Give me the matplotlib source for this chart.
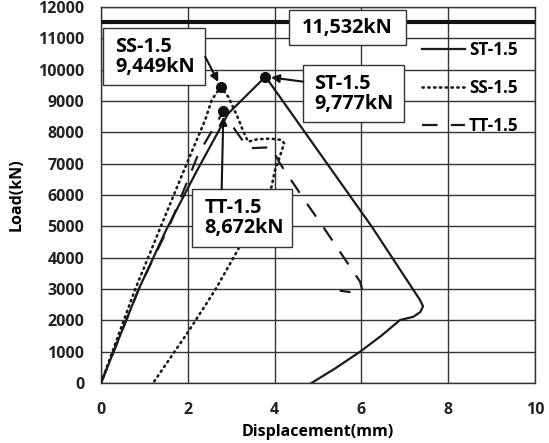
import matplotlib
matplotlib.use("Agg")
import matplotlib.pyplot as plt
from matplotlib.patches import Rectangle

plt.rcParams['font.family'] = ['Open Sans', 'DejaVu Sans']
plt.rcParams['font.weight'] = 'bold'

# ST-1.5 (solid)
st_x = [0, 0.86, 1.5, 2.2, 2.93, 3.79, 6.24, 7.35, 7.42, 7.36, 7.2, 6.89, 6.45, 5.97, 5.4, 4.85]
st_y = [0, 2968, 4883, 6750, 8600, 9777, 4989, 2650, 2450, 2270, 2116, 2010, 1500, 1000, 470, 0]
# SS-1.5 (dotted)
ss_x = [0, 0.78, 1.44, 1.63, 2.01, 2.40, 2.55, 2.76, 2.93, 3.16, 3.28, 3.39, 3.6, 3.9, 4.16, 4.22, 4.12, 4.01, 3.93, 3.13, 2.63, 2.01, 1.2]
ss_y = [0, 2968, 5203, 5841, 7117, 8394, 9032, 9449, 9138, 8448, 8021, 7702, 7780, 7800, 7756, 7650, 7223, 6798, 6266, 4191, 2968, 1637, 0]
# TT-1.5 (dashed)
tt_x = [0, 0.9, 1.6, 2.24, 2.82, 3.09, 3.39, 3.93, 4.01, 4.12, 4.74, 5.09, 5.97, 6.02, 5.92, 5.5]
tt_y = [0, 3100, 5100, 7300, 8672, 8075, 7491, 7523, 7300, 7012, 5735, 5043, 3233, 2968, 2870, 2946]

peaks_x = [3.79, 2.76, 2.82]
peaks_y = [9777, 9449, 8672]
capacity = 11532

xticks = [0, 2, 4, 6, 8, 10]
yticks = list(range(0, 12001, 1000))

fig = plt.figure(figsize=(5.49, 4.43), dpi=100)
ax = fig.add_axes([0.184, 0.1354, 0.7905, 0.8488])

ax.plot(st_x, st_y, color='#1a1a1a', lw=1.6, ls='-', label='ST-1.5', zorder=3)
ax.plot(ss_x, ss_y, color='#1a1a1a', lw=1.9, ls=(0, (0.5, 1.7)), dash_capstyle='round', label='SS-1.5', zorder=3)
ax.plot(tt_x, tt_y, color='#1a1a1a', lw=1.6, ls=(0, (7, 6)), label='TT-1.5', zorder=3)
ax.plot(peaks_x, peaks_y, 'o', color='#111111', ms=7, zorder=4)

ax.axhline(capacity, color='#111111', lw=3, zorder=3)

ax.set_xlim(0, 10)
ax.set_ylim(0, 12000)
ax.set_xticks(xticks)
ax.set_yticks(yticks)
ax.grid(True, color='#333333', lw=1.0)
ax.set_axisbelow(True)
for s in ax.spines.values():
    s.set_color('#333333')
    s.set_linewidth(1.0)
ax.tick_params(axis='y', length=0, labelsize=11.5, pad=12)
ax.tick_params(axis='x', length=0, labelsize=11.5, pad=14)
for lab in ax.get_xticklabels() + ax.get_yticklabels():
    lab.set_fontweight('bold')
    lab.set_color('#222222')
ax.set_xlabel('Displacement(mm)', fontsize=11.5, fontweight='bold', labelpad=4)
ax.set_ylabel('Load(kN)', fontsize=11.5, fontweight='bold', labelpad=10)

fs = 14.3
def box(x0, x1, y0, y1):
    ax.add_patch(Rectangle((x0, y0), x1 - x0, y1 - y0, fc='white', ec='#333333', lw=1.0, zorder=6))

# capacity label
box(4.34, 7.03, 10779, 11905)
ax.text(5.68, 11330, '11,532kN', ha='center', va='center', fontsize=fs, fontweight='bold', zorder=7)

arrow = dict(arrowstyle='-|>', color='#111111', lw=1.5, mutation_scale=12, shrinkA=0, shrinkB=4)

box(0.05, 2.40, 9511, 11321)
ax.text(0.33, 10416, 'SS-1.5\n9,449kN', ha='left', va='center', fontsize=fs, fontweight='bold',
        linespacing=1.0, zorder=7)
ax.annotate('', xy=(2.76, 9449), xytext=(2.40, 10415), arrowprops=arrow, zorder=7)

box(4.66, 6.98, 8321, 10150)
ax.text(4.91, 9235, 'ST-1.5\n9,777kN', ha='left', va='center', fontsize=fs, fontweight='bold',
        linespacing=1.0, zorder=7)
ax.annotate('', xy=(3.79, 9777), xytext=(4.66, 9617), arrowprops=arrow, zorder=7)

box(2.09, 4.41, 4350, 6183)
ax.text(2.38, 5266, 'TT-1.5\n8,672kN', ha='left', va='center', fontsize=fs, fontweight='bold',
        linespacing=1.0, zorder=7)
ax.annotate('', xy=(2.82, 8672), xytext=(2.78, 6183), arrowprops=arrow, zorder=7)

leg = ax.legend(loc='upper left', bbox_to_anchor=(0.739, 0.909), frameon=False, fontsize=12.3,
                handlelength=2.55, handletextpad=0.22, labelspacing=1.15, borderpad=0, borderaxespad=0)
for t in leg.get_texts():
    t.set_fontweight('bold')

fig.savefig('out.png', dpi=100)
